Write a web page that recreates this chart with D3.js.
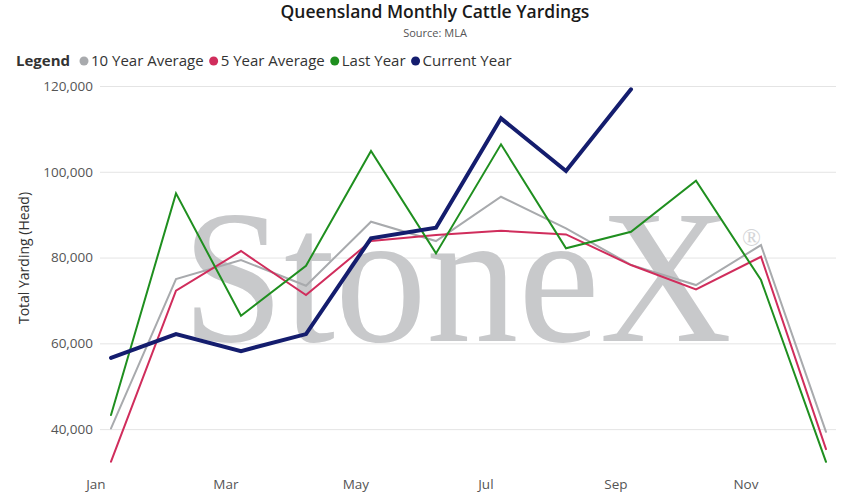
<!DOCTYPE html>
<html><head><meta charset="utf-8">
<script src="https://cdn.jsdelivr.net/npm/d3@7/dist/d3.min.js"></script>
<style>body{margin:0;background:#fff;}svg{display:block;font-family:"Open Sans","Noto Sans",sans-serif;}</style>
</head><body><svg id="c" width="860" height="500"></svg>
<script>
const months = ["Jan","Feb","Mar","Apr","May","Jun","Jul","Aug","Sep","Oct","Nov","Dec"];
const tickMonths = ["Jan","Mar","May","Jul","Sep","Nov"];
const yTicks = [40000,60000,80000,100000,120000];
const tenYearAvg = [40150,74990,79420,73420,88350,83850,94180,86800,78300,73590,82900,39370];
const fiveYearAvg = [32400,72260,81520,71250,83850,85250,86250,85400,78250,72580,80190,35330];
const lastYear = [43270,94970,66430,78090,104840,80970,106400,82150,86020,97910,74750,32370];
const currentYear = [56600,62160,58190,62160,84480,86950,112460,100175,119230];
const seriesNames = ["10 Year Average","5 Year Average","Last Year","Current Year"];
const seriesColors = ["#a8aaad","#d02d5c","#1f8f1f","#141d6e"];
const seriesWidths = [2,2,2,4];
const seriesData = [tenYearAvg,fiveYearAvg,lastYear,currentYear];

const svg = d3.select("#c");
const x = d3.scaleLinear().domain([0,11]).range([111,826]);
const y = d3.scaleLinear().domain([30000,120000]).range([472,86]);
const plotL = 100, plotR = 836;

// title
svg.append("text").attr("x",435).attr("y",18).attr("text-anchor","middle")
  .attr("font-size",17.5).attr("font-weight",600).attr("fill","#1a1a1a").text("Queensland Monthly Cattle Yardings");
svg.append("text").attr("x",435).attr("y",37).attr("text-anchor","middle")
  .attr("font-size",11).attr("fill","#555").text("Source: MLA");

// gridlines
const yAxis = d3.axisLeft(y).tickValues(yTicks).tickSize(-(plotR-plotL)).tickFormat(d3.format(","));
const gy = svg.append("g").attr("transform",`translate(${plotL},0)`).call(yAxis);
gy.select(".domain").remove();
gy.selectAll(".tick line").attr("stroke","#e4e4e4").attr("stroke-width",1);
gy.selectAll(".tick text").attr("x",-7).attr("font-size",13.5).attr("fill","#555").attr("font-family","Open Sans, sans-serif");

// x axis labels (ticks at month start)
const xAxis = d3.axisBottom(x).tickValues(tickMonths.map(m=>months.indexOf(m)-0.24)).tickSize(0)
  .tickFormat((d,i)=>tickMonths[i]);
const gx = svg.append("g").attr("transform","translate(0,474)").call(xAxis);
gx.select(".domain").remove();
gx.selectAll(".tick text").attr("dy",12).attr("font-size",13.5).attr("fill","#555").attr("font-family","Open Sans, sans-serif");

// y axis title
svg.append("text").attr("transform","translate(29,258) rotate(-90)").attr("text-anchor","middle")
  .attr("font-size",14).attr("fill","#333").text("Total Yarding (Head)");

// watermark (single text element with registered mark as tspan)
const wm = svg.append("text").attr("font-family","Liberation Serif, Times New Roman, serif");
wm.append("tspan").attr("x",182).attr("y",341).attr("font-size",190).attr("fill","#c8c9cb")
  .attr("textLength",550).attr("lengthAdjust","spacingAndGlyphs").text("StoneX");
wm.append("tspan").attr("x",742).attr("y",246).attr("font-size",25).attr("fill","#d4d5d7").text("®");

// lines
const line = d3.line().x((d,i)=>x(i)).y(d=>y(d));
seriesData.forEach((s,k)=>{
  svg.append("path").datum(s).attr("d",line).attr("fill","none")
    .attr("stroke",seriesColors[k]).attr("stroke-width",seriesWidths[k])
    .attr("stroke-linejoin","miter").attr("stroke-linecap","round");
});

// legend
const lg = svg.append("g").attr("font-size",15);
lg.append("text").attr("x",16).attr("y",66).attr("font-weight",700).attr("fill","#333").text("Legend");
let lx = 84;
seriesNames.forEach((n,k)=>{
  lg.append("circle").attr("cx",lx).attr("cy",61).attr("r",4.5).attr("fill",seriesColors[k]);
  const t = lg.append("text").attr("x",lx+7).attr("y",66).attr("fill","#333").text(n);
  lx += 7 + t.node().getComputedTextLength() + 10;
});
</script></body></html>
